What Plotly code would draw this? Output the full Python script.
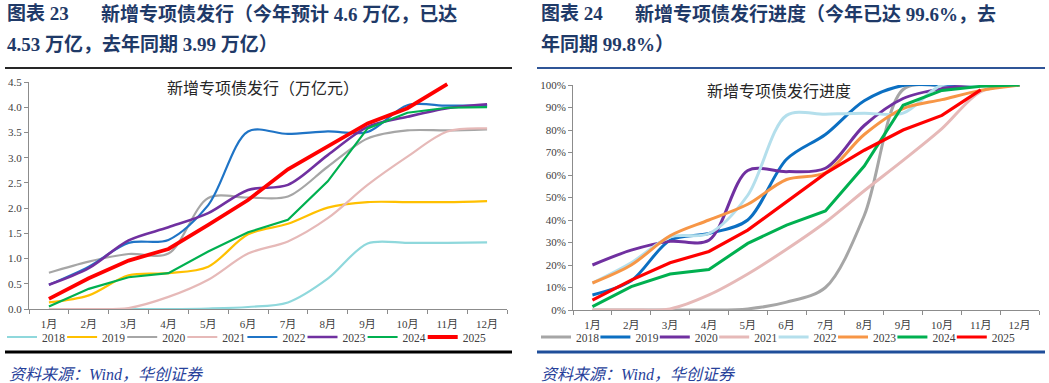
import plotly.graph_objects as go

W, H = 1049, 383

months = ["1月", "2月", "3月", "4月", "5月", "6月", "7月", "8月", "9月", "10月", "11月", "12月"]
years = ["2018", "2019", "2020", "2021", "2022", "2023", "2024", "2025"]

# Left panel: cumulative issuance (万亿元)
amt_2018 = [0, 0, 0, 0, 0.01, 0.04, 0.13, 0.60, 1.30, 1.31, 1.31, 1.32]
amt_2019 = [0.13, 0.27, 0.67, 0.71, 0.84, 1.48, 1.69, 2.01, 2.12, 2.12, 2.12, 2.14]
amt_2020 = [0.72, 0.94, 1.09, 1.10, 2.20, 2.21, 2.23, 2.82, 3.38, 3.54, 3.54, 3.56]
amt_2021 = [0, 0, 0.02, 0.24, 0.58, 1.10, 1.34, 1.80, 2.46, 3.02, 3.52, 3.58]
amt_2022 = [0.48, 0.84, 1.31, 1.37, 2.06, 3.52, 3.47, 3.52, 3.51, 4.04, 4.03, 4.03]
amt_2023 = [0.48, 0.81, 1.36, 1.62, 1.90, 2.36, 2.46, 3.05, 3.61, 3.81, 3.98, 4.06]
amt_2024 = [0.05, 0.40, 0.63, 0.71, 1.14, 1.52, 1.77, 2.53, 3.58, 3.89, 3.99, 4.00]
amt_2025 = [0.20, 0.61, 0.96, 1.19, 1.67, 2.16, 2.77, 3.23, 3.68, 3.98, 4.46]

# Right panel: issuance progress (%)
pct_2018 = [0, 0, 0, 0, 0.5, 3.5, 10, 42, 98, 100, 100, 100]
pct_2019 = [6.7, 13, 31, 34, 40, 67, 78, 93, 99.8, 100, 100, 100]
pct_2020 = [20, 26.6, 30.5, 31, 62, 61.5, 63, 82, 94, 98.4, 100, 100]
pct_2021 = [0, 0, 0.5, 6.7, 16, 27, 39, 53, 66.5, 80.6, 97, 100]
pct_2022 = [12, 21, 32.5, 34, 51, 86.5, 87, 87.5, 87.5, 100, 100, 100]
pct_2023 = [12, 20, 33, 40, 47, 58, 61, 78, 89.5, 93.5, 97.6, 100]
pct_2024 = [1.5, 10.4, 16, 18, 29.6, 37.7, 44, 64, 91, 97.6, 99.4, 100]
pct_2025 = [4.4, 13.3, 21, 26, 35.5, 48, 60.7, 71, 80, 86.5, 97.8]

left_data = [amt_2018, amt_2019, amt_2020, amt_2021, amt_2022, amt_2023, amt_2024, amt_2025]
right_data = [pct_2018, pct_2019, pct_2020, pct_2021, pct_2022, pct_2023, pct_2024, pct_2025]

left_colors = ["#8fd8dc", "#ffc000", "#a6a6a6", "#e6b9b8", "#1f74c6", "#7030a0", "#00b050", "#ff0000"]
right_colors = ["#a6a6a6", "#0b6fc2", "#7030a0", "#e6b9b8", "#b4dfec", "#f79646", "#00b050", "#ff0000"]
left_widths = [2.2, 2.2, 2.2, 2.2, 2.2, 2.6, 2.2, 3.8]
right_widths = [3, 3, 3, 3, 3, 3, 3, 3.2]
straight = {"2024", "2025"}

SERIF = "Liberation Serif, Noto Sans CJK SC, serif"
TITLE_COLOR = "#1f3a68"
SRC_COLOR = "#27419a"


def px(x):
    return x / W


def py(y):
    return 1 - y / H


fig = go.Figure()

for i, yr in enumerate(years):
    vals = left_data[i]
    fig.add_trace(go.Scatter(
        x=months[:len(vals)], y=vals, name=yr, mode="lines",
        line=dict(color=left_colors[i], width=left_widths[i],
                  shape="linear" if yr in straight else "spline", smoothing=0.9),
        xaxis="x", yaxis="y", legend="legend", hoverinfo="skip"))
# blank spacer entry so the last legend label is not clipped
fig.add_trace(go.Scatter(x=months[:1], y=[None], name=" ", mode="lines",
                         line=dict(color="rgba(0,0,0,0)"),
                         xaxis="x", yaxis="y", legend="legend", hoverinfo="skip"))

for i, yr in enumerate(years):
    vals = right_data[i]
    fig.add_trace(go.Scatter(
        x=months[:len(vals)], y=vals, name=yr, mode="lines",
        line=dict(color=right_colors[i], width=right_widths[i],
                  shape="linear" if yr in straight else "spline", smoothing=0.9),
        xaxis="x2", yaxis="y2", legend="legend2", hoverinfo="skip"))
fig.add_trace(go.Scatter(x=months[:1], y=[None], name=" ", mode="lines",
                         line=dict(color="rgba(0,0,0,0)"),
                         xaxis="x2", yaxis="y2", legend="legend2", hoverinfo="skip"))

axis_common = dict(showgrid=False, zeroline=False, showline=True, linecolor="#8c8c8c",
                   linewidth=1, ticks="outside", ticklen=4, tickcolor="#8c8c8c",
                   tickfont=dict(family=SERIF, size=11, color="#404040"))

legend_common = dict(orientation="h", yanchor="middle", xanchor="left",
                     font=dict(family=SERIF, size=11.5, color="#404040"),
                     entrywidthmode="pixels", itemwidth=30,
                     bgcolor="rgba(0,0,0,0)", tracegroupgap=0)

fig.update_layout(
    width=W, height=H, margin=dict(l=0, r=0, t=0, b=0, autoexpand=False),
    paper_bgcolor="white", plot_bgcolor="white",
    xaxis=dict(domain=[px(29), px(507)], anchor="y", type="category",
               categoryorder="array", categoryarray=months, range=[-0.5, 11.5],
               tickson="boundaries", ticklabelstandoff=5, **axis_common),
    yaxis=dict(domain=[py(309), py(82)], anchor="x", range=[0, 4.5], dtick=0.5,
               tickformat=".1f", **axis_common),
    xaxis2=dict(domain=[px(573), px(1039)], anchor="y2", type="category",
                categoryorder="array", categoryarray=months, range=[-0.5, 11.5],
                tickson="boundaries", ticklabelstandoff=5, **axis_common),
    yaxis2=dict(domain=[py(310), py(85)], anchor="x2", range=[0, 100], dtick=10,
                ticksuffix="%", **axis_common),
    legend=dict(x=px(2), y=py(337), entrywidth=15.1, **legend_common),
    legend2=dict(x=px(536), y=py(337), entrywidth=14.4, **legend_common),
    showlegend=True,
)

annos = []


def txt(x, y, s, size, color, bold=False, italic=False, xanchor="left", family=SERIF):
    if bold:
        s = "<b>" + s + "</b>"
    if italic:
        s = "<i>" + s + "</i>"
    annos.append(dict(x=px(x), y=py(y), xref="paper", yref="paper", text=s,
                      showarrow=False, xanchor=xanchor, yanchor="middle",
                      font=dict(family=family, size=size, color=color)))


# Headers
txt(5, 14, "图表 23", 19, TITLE_COLOR, bold=True)
txt(99, 14, "新增专项债发行（今年预计 4.6 万亿，已达", 19, TITLE_COLOR, bold=True)
txt(5, 44, "4.53 万亿，去年同期 3.99 万亿）", 19, TITLE_COLOR, bold=True)
txt(539, 14, "图表 24", 19, TITLE_COLOR, bold=True)
txt(633, 14, "新增专项债发行进度（今年已达 99.6%，去", 19, TITLE_COLOR, bold=True)
txt(539, 44, "年同期 99.8%）", 19, TITLE_COLOR, bold=True)

# Inner chart titles
txt(263, 88, "新增专项债发行（万亿元）", 16, "#262626", xanchor="center")
txt(779, 92, "新增专项债发行进度", 16, "#262626", xanchor="center")

# Source lines
txt(7, 374, "资料来源：Wind，华创证券", 16, SRC_COLOR, italic=True)
txt(539, 374, "资料来源：Wind，华创证券", 16, SRC_COLOR, italic=True)

fig.update_layout(annotations=annos)

shapes = [
    dict(type="line", xref="paper", yref="paper", x0=px(5), x1=px(512), y0=py(68), y1=py(68),
         line=dict(color="#262626", width=2)),
    dict(type="line", xref="paper", yref="paper", x0=px(537), x1=px(1045), y0=py(68), y1=py(68),
         line=dict(color="#2f5597", width=2)),
    dict(type="line", xref="paper", yref="paper", x0=px(5), x1=px(512), y0=py(352), y1=py(352),
         line=dict(color="#000000", width=3)),
    dict(type="line", xref="paper", yref="paper", x0=px(537), x1=px(1045), y0=py(352), y1=py(352),
         line=dict(color="#1f4e9a", width=3)),
]
fig.update_layout(shapes=shapes)

fig.write_html("out.html")
